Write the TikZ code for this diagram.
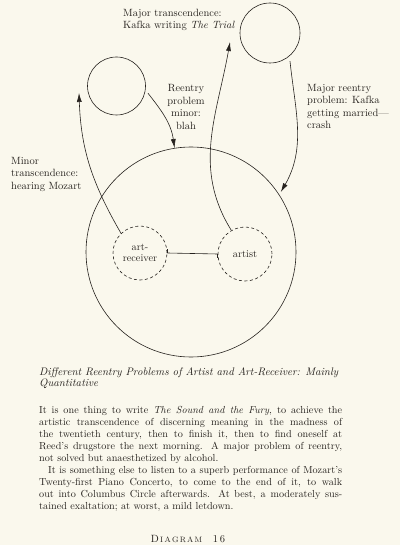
\documentclass[tikz,border=0pt]{standalone}
\usepackage{fontspec}
\usepackage{xcolor}
\definecolor{paperTone}{RGB}{250,248,237}
\definecolor{inkGray}{RGB}{38,34,30}
\usetikzlibrary{arrows.meta, positioning}

\begin{document}
\begin{tikzpicture}[x=1pt, y=1pt,
  ring/.style={circle, draw=inkGray, line width=0.6pt, inner sep=0pt},
  self/.style={circle, draw=inkGray, dashed, dash pattern=on 3pt off 2.5pt,
               line width=0.6pt, minimum size=54pt, inner sep=0pt,
               align=center, text=inkGray, font=\fontsize{10.3}{11}\selectfont},
  note/.style={inner sep=0pt, text=inkGray, font=\fontsize{10.5}{12.5}\selectfont},
  arrow/.style={-{Latex[length=9pt, width=5pt]}, line width=0.6pt, inkGray},
]
  % page
  \fill[paperTone] (0,0) rectangle (400,-545);
  \useasboundingbox (0,0) rectangle (400,-545);

  % circles
  \node[ring, minimum size=210pt] (world) at (191,-252) {};
  \node[ring, minimum size=58pt] (minorT) at (116.5,-86) {};
  \node[ring, minimum size=60pt] (majorT) at (270,-33) {};
  \node[self] (receiver) at (140,-253) {art-\\receiver};
  \node[self] (artist) at (245,-254) {artist};

  % free arrow tips
  \coordinate (minorTip) at (79,-93);
  \coordinate (majorTip) at (230,-42);

  % labels
  \node[note, align=left, anchor=north west] (trialLbl) at (123,-9)
    {Major transcendence:\\Kafka writing \textit{The Trial}};
  \node[note, align=center] (minorLbl) at (186,-107)
    {Reentry\\problem\\minor:\\blah};
  \node[note, align=left, anchor=north west] (crashLbl) at (307,-84)
    {Major reentry\\problem: Kafka\\getting married---\\crash};
  \node[note, align=left, anchor=north west] (mozartLbl) at (11,-157)
    {Minor\\transcendence:\\hearing Mozart};

  % connectors
  \draw[line width=0.6pt, inkGray] (receiver.east) -- (artist.west);
  \draw[line width=0.6pt, inkGray] ([yshift=4pt]receiver.east) -- (receiver.east);
  \draw[line width=0.6pt, inkGray] (artist.west) -- ([yshift=-4pt]artist.west);
  \draw[arrow] (receiver.134) to[out=120, in=-88] (minorTip);
  \draw[arrow, shorten <=4pt] (minorT.-8) to[out=-52, in=98] (world.99);
  \draw[arrow] (artist.120) to[out=122, in=-100] (majorTip);
  \draw[arrow, shorten <=5pt, shorten >=3pt] (majorT.-50) to[out=-84, in=60] (world.33);

  % caption and text
  \node[inner sep=0pt, anchor=north west, align=left, text=inkGray,
        font=\fontsize{10.9}{11.5}\selectfont\itshape] (caption) at (39,-367)
    {Different Reentry Problems of Artist and Art-Receiver: Mainly\\Quantitative};
  \node[inner sep=0pt, anchor=north west, text width=303pt, align=justify,
        text=inkGray, font=\fontsize{10.2}{12}\selectfont] (story) at (39,-406)
    {It is one thing to write \textit{The Sound and the Fury}, to achieve the\linebreak
     artistic transcendence of discerning meaning in the madness of\linebreak
     the twentieth century, then to finish it, then to find oneself at\linebreak
     Reed's drugstore the next morning. A major problem of reentry,\linebreak
     not solved but anaesthetized by alcohol.\par
     \hspace*{9pt}It is something else to listen to a superb performance of Mozart's\linebreak
     Twenty-first Piano Concerto, to come to the end of it, to walk\linebreak
     out into Columbus Circle afterwards. At best, a moderately sus-\linebreak
     tained exaltation; at worst, a mild letdown.};
  \node[inner sep=0pt, text=inkGray, font=\fontsize{10.5}{12}\selectfont] (plate) at (188,-539)
    {D{\fontsize{7.8}{9}\selectfont\,I\,A\,G\,R\,A\,M}\quad 1\,6};
\end{tikzpicture}
\end{document}
